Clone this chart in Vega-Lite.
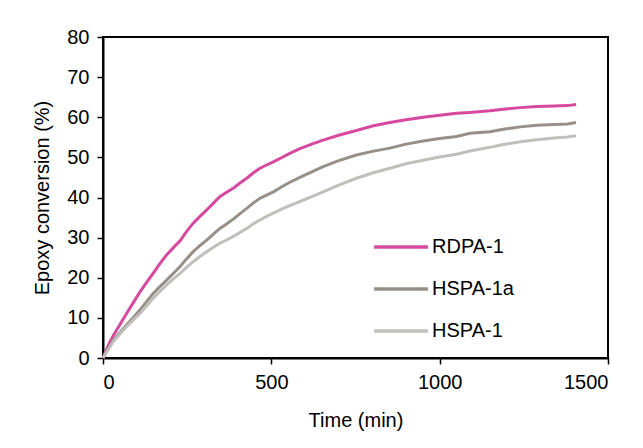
{
  "$schema": "https://vega.github.io/schema/vega-lite/v6.json",
  "width": 505,
  "height": 321,
  "autosize": {"type": "none"},
  "padding": {"left": 103, "top": 37, "right": 35, "bottom": 90},
  "background": "white",
  "view": {"stroke": "black", "strokeWidth": 2},
  "config": {
    "font": "Liberation Sans",
    "view": {"stroke": "black", "strokeWidth": 2},
    "axis": {
      "domainColor": "black", "domainWidth": 2, "tickColor": "black", "tickWidth": 1.5,
      "tickSize": 6, "labelFont": "Liberation Sans", "labelFontSize": 20, "labelColor": "black",
      "titleFont": "Liberation Sans", "titleFontSize": 20, "titleFontWeight": "normal", "titleColor": "black",
      "grid": false
    }
  },
  "data": {"values": [
    {"t":0,"v":0,"s":"RDPA-1"},{"t":15,"v":3,"s":"RDPA-1"},{"t":31,"v":5.7,"s":"RDPA-1"},{"t":50,"v":8.3,"s":"RDPA-1"},{"t":70,"v":11.1,"s":"RDPA-1"},{"t":90,"v":13.8,"s":"RDPA-1"},{"t":110,"v":16.5,"s":"RDPA-1"},{"t":130,"v":18.9,"s":"RDPA-1"},{"t":149,"v":21.1,"s":"RDPA-1"},{"t":169,"v":23.5,"s":"RDPA-1"},{"t":189,"v":25.7,"s":"RDPA-1"},{"t":209,"v":27.5,"s":"RDPA-1"},{"t":229,"v":29.2,"s":"RDPA-1"},{"t":248,"v":31.5,"s":"RDPA-1"},{"t":268,"v":33.6,"s":"RDPA-1"},{"t":288,"v":35.3,"s":"RDPA-1"},{"t":308,"v":36.9,"s":"RDPA-1"},{"t":328,"v":38.6,"s":"RDPA-1"},{"t":347,"v":40.2,"s":"RDPA-1"},{"t":367,"v":41.3,"s":"RDPA-1"},{"t":387,"v":42.3,"s":"RDPA-1"},{"t":407,"v":43.6,"s":"RDPA-1"},{"t":427,"v":44.8,"s":"RDPA-1"},{"t":446,"v":46.1,"s":"RDPA-1"},{"t":466,"v":47.3,"s":"RDPA-1"},{"t":486,"v":48.1,"s":"RDPA-1"},{"t":506,"v":48.9,"s":"RDPA-1"},{"t":530,"v":49.9,"s":"RDPA-1"},{"t":555,"v":51.0,"s":"RDPA-1"},{"t":585,"v":52.2,"s":"RDPA-1"},{"t":620,"v":53.3,"s":"RDPA-1"},{"t":654,"v":54.3,"s":"RDPA-1"},{"t":700,"v":55.5,"s":"RDPA-1"},{"t":753,"v":56.7,"s":"RDPA-1"},{"t":800,"v":57.8,"s":"RDPA-1"},{"t":852,"v":58.7,"s":"RDPA-1"},{"t":900,"v":59.4,"s":"RDPA-1"},{"t":951,"v":60.0,"s":"RDPA-1"},{"t":1000,"v":60.5,"s":"RDPA-1"},{"t":1050,"v":61.0,"s":"RDPA-1"},{"t":1090,"v":61.2,"s":"RDPA-1"},{"t":1149,"v":61.6,"s":"RDPA-1"},{"t":1189,"v":62.0,"s":"RDPA-1"},{"t":1240,"v":62.4,"s":"RDPA-1"},{"t":1288,"v":62.7,"s":"RDPA-1"},{"t":1340,"v":62.8,"s":"RDPA-1"},{"t":1380,"v":62.9,"s":"RDPA-1"},{"t":1405,"v":63.2,"s":"RDPA-1"},
    {"t":0,"v":0,"s":"HSPA-1a"},{"t":15,"v":2.2,"s":"HSPA-1a"},{"t":31,"v":4.5,"s":"HSPA-1a"},{"t":50,"v":6.3,"s":"HSPA-1a"},{"t":70,"v":8.2,"s":"HSPA-1a"},{"t":90,"v":10.1,"s":"HSPA-1a"},{"t":110,"v":12.0,"s":"HSPA-1a"},{"t":130,"v":14.1,"s":"HSPA-1a"},{"t":149,"v":16.1,"s":"HSPA-1a"},{"t":169,"v":17.8,"s":"HSPA-1a"},{"t":189,"v":19.4,"s":"HSPA-1a"},{"t":209,"v":21.1,"s":"HSPA-1a"},{"t":229,"v":22.8,"s":"HSPA-1a"},{"t":248,"v":24.7,"s":"HSPA-1a"},{"t":268,"v":26.5,"s":"HSPA-1a"},{"t":288,"v":28.0,"s":"HSPA-1a"},{"t":308,"v":29.4,"s":"HSPA-1a"},{"t":328,"v":30.9,"s":"HSPA-1a"},{"t":347,"v":32.3,"s":"HSPA-1a"},{"t":367,"v":33.4,"s":"HSPA-1a"},{"t":387,"v":34.6,"s":"HSPA-1a"},{"t":407,"v":36.0,"s":"HSPA-1a"},{"t":427,"v":37.3,"s":"HSPA-1a"},{"t":446,"v":38.6,"s":"HSPA-1a"},{"t":466,"v":39.8,"s":"HSPA-1a"},{"t":486,"v":40.6,"s":"HSPA-1a"},{"t":506,"v":41.4,"s":"HSPA-1a"},{"t":530,"v":42.6,"s":"HSPA-1a"},{"t":555,"v":43.8,"s":"HSPA-1a"},{"t":585,"v":45.0,"s":"HSPA-1a"},{"t":620,"v":46.4,"s":"HSPA-1a"},{"t":654,"v":47.7,"s":"HSPA-1a"},{"t":700,"v":49.2,"s":"HSPA-1a"},{"t":753,"v":50.6,"s":"HSPA-1a"},{"t":800,"v":51.5,"s":"HSPA-1a"},{"t":852,"v":52.3,"s":"HSPA-1a"},{"t":900,"v":53.3,"s":"HSPA-1a"},{"t":951,"v":54.1,"s":"HSPA-1a"},{"t":1000,"v":54.7,"s":"HSPA-1a"},{"t":1050,"v":55.2,"s":"HSPA-1a"},{"t":1090,"v":56.0,"s":"HSPA-1a"},{"t":1149,"v":56.4,"s":"HSPA-1a"},{"t":1189,"v":57.0,"s":"HSPA-1a"},{"t":1240,"v":57.6,"s":"HSPA-1a"},{"t":1288,"v":58.0,"s":"HSPA-1a"},{"t":1340,"v":58.2,"s":"HSPA-1a"},{"t":1380,"v":58.3,"s":"HSPA-1a"},{"t":1405,"v":58.7,"s":"HSPA-1a"},
    {"t":0,"v":0,"s":"HSPA-1"},{"t":15,"v":2.0,"s":"HSPA-1"},{"t":31,"v":4.1,"s":"HSPA-1"},{"t":50,"v":6.0,"s":"HSPA-1"},{"t":70,"v":7.8,"s":"HSPA-1"},{"t":90,"v":9.5,"s":"HSPA-1"},{"t":110,"v":11.1,"s":"HSPA-1"},{"t":130,"v":13.0,"s":"HSPA-1"},{"t":149,"v":14.9,"s":"HSPA-1"},{"t":169,"v":16.6,"s":"HSPA-1"},{"t":189,"v":18.2,"s":"HSPA-1"},{"t":209,"v":19.7,"s":"HSPA-1"},{"t":229,"v":21.1,"s":"HSPA-1"},{"t":248,"v":22.6,"s":"HSPA-1"},{"t":268,"v":24.0,"s":"HSPA-1"},{"t":288,"v":25.3,"s":"HSPA-1"},{"t":308,"v":26.5,"s":"HSPA-1"},{"t":328,"v":27.6,"s":"HSPA-1"},{"t":347,"v":28.6,"s":"HSPA-1"},{"t":367,"v":29.4,"s":"HSPA-1"},{"t":387,"v":30.3,"s":"HSPA-1"},{"t":407,"v":31.3,"s":"HSPA-1"},{"t":427,"v":32.3,"s":"HSPA-1"},{"t":446,"v":33.4,"s":"HSPA-1"},{"t":466,"v":34.4,"s":"HSPA-1"},{"t":486,"v":35.3,"s":"HSPA-1"},{"t":506,"v":36.1,"s":"HSPA-1"},{"t":530,"v":37.1,"s":"HSPA-1"},{"t":555,"v":38.0,"s":"HSPA-1"},{"t":585,"v":39.0,"s":"HSPA-1"},{"t":620,"v":40.2,"s":"HSPA-1"},{"t":654,"v":41.4,"s":"HSPA-1"},{"t":700,"v":43.1,"s":"HSPA-1"},{"t":753,"v":44.8,"s":"HSPA-1"},{"t":800,"v":46.1,"s":"HSPA-1"},{"t":852,"v":47.3,"s":"HSPA-1"},{"t":900,"v":48.4,"s":"HSPA-1"},{"t":951,"v":49.3,"s":"HSPA-1"},{"t":1000,"v":50.1,"s":"HSPA-1"},{"t":1050,"v":50.8,"s":"HSPA-1"},{"t":1090,"v":51.6,"s":"HSPA-1"},{"t":1149,"v":52.5,"s":"HSPA-1"},{"t":1189,"v":53.2,"s":"HSPA-1"},{"t":1240,"v":53.9,"s":"HSPA-1"},{"t":1288,"v":54.4,"s":"HSPA-1"},{"t":1340,"v":54.8,"s":"HSPA-1"},{"t":1380,"v":55.1,"s":"HSPA-1"},{"t":1405,"v":55.4,"s":"HSPA-1"}
  ]},
  "mark": {"type": "line", "strokeWidth": 3, "interpolate": "linear"},
  "encoding": {
    "x": {"field": "t", "type": "quantitative", "title": "Time (min)",
      "scale": {"domain": [0, 1500], "nice": false},
      "axis": {"values": [0, 500, 1000, 1500], "format": "d", "labelPadding": 8, "titlePadding": 18,
        "domainColor": "black", "domainWidth": 2, "tickColor": "black"}},
    "y": {"field": "v", "type": "quantitative", "title": "Epoxy conversion (%)",
      "scale": {"domain": [0, 80], "nice": false},
      "axis": {"values": [0,10,20,30,40,50,60,70,80], "format": "d", "labelPadding": 8, "titlePadding": 14,
        "domainColor": "black", "domainWidth": 2, "tickColor": "black"}},
    "color": {"field": "s", "type": "nominal",
      "scale": {"domain": ["RDPA-1", "HSPA-1a", "HSPA-1"], "range": ["#d6499f", "#979089", "#c1bfbc"]},
      "legend": {"title": null, "orient": "none", "legendX": 269, "legendY": 181,
        "symbolType": "stroke", "symbolSize": 2900, "symbolStrokeWidth": 3.5,
        "labelFontSize": 20, "labelFont": "Liberation Sans", "labelColor": "black",
        "rowPadding": 3, "labelOffset": 2}}
  }
}
